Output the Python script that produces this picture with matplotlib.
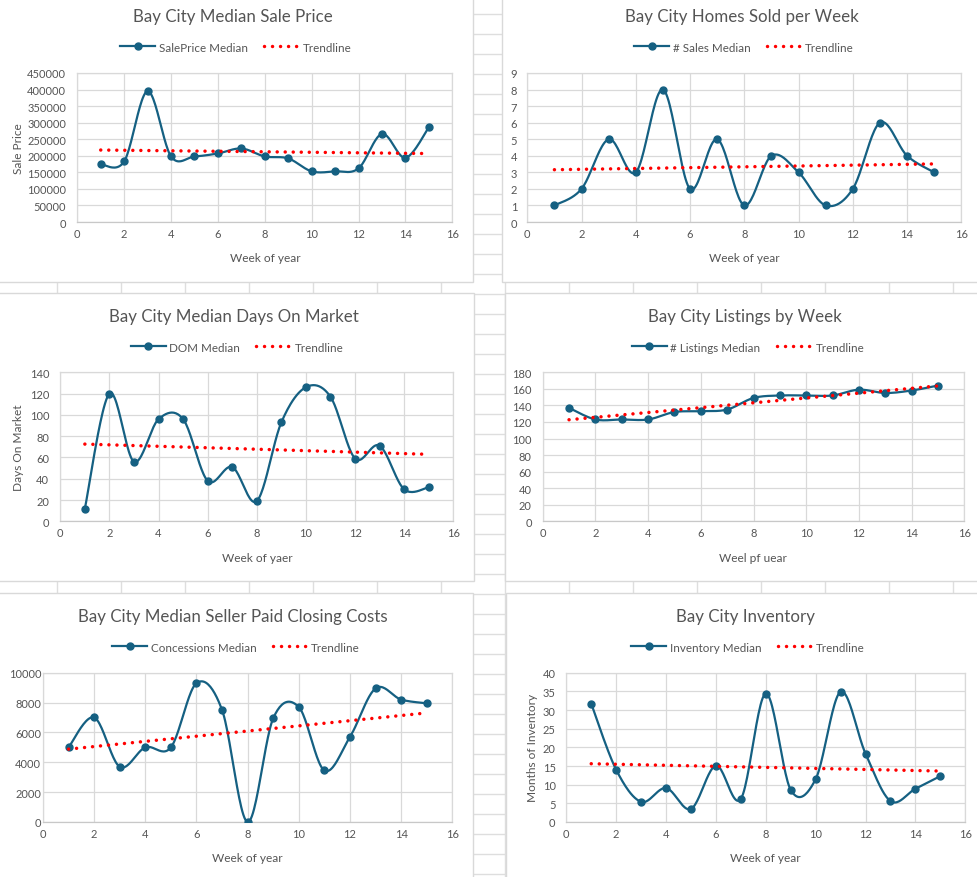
import numpy as np
import matplotlib.pyplot as plt
from matplotlib.lines import Line2D
from matplotlib.patches import Rectangle
from matplotlib.ticker import MultipleLocator, FuncFormatter

plt.rcParams['font.family'] = ['Lato', 'DejaVu Sans']

# data
weeks = list(range(1, 16))
sale_price = [174000, 183000, 395000, 198000, 198000, 207000, 222000, 198000,
              192000, 153000, 153000, 162000, 266000, 194000, 286000]
homes_sold = [1, 2, 5, 3, 8, 2, 5, 1, 4, 3, 1, 2, 6, 4, 3]
days_on_market = [12, 120, 56, 96, 96, 38, 51, 19, 93, 126, 117, 59, 71, 30, 32]
listings = [137, 123, 123, 123, 132, 133, 135, 149, 152, 152, 152, 159, 155, 158, 164]
concessions = [5000, 7000, 3700, 5000, 5000, 9300, 7500, 0, 6950, 7700, 3450,
               5700, 8950, 8200, 7950]
inventory = [31.7, 14.0, 5.4, 9.1, 3.5, 15.1, 6.2, 34.4, 8.6, 11.5, 34.9,
             18.3, 5.6, 8.9, 12.3]

titles = ['Bay City Median Sale Price', 'Bay City Homes Sold per Week',
          'Bay City Median Days On Market', 'Bay City Listings by Week',
          'Bay City Median Seller Paid Closing Costs', 'Bay City Inventory']
series_names = ['SalePrice Median', '# Sales Median', 'DOM Median',
                '# Listings Median', 'Concessions Median', 'Inventory Median']
x_labels = ['Week of year', 'Week of year', 'Week of yaer', 'Weel pf uear',
            'Week of year', 'Week of year']
y_labels = ['Sale Price', None, 'Days On Market', None, None, 'Months of Inventory']
y_max = [450000, 9, 140, 180, 10000, 40]
y_step = [50000, 1, 20, 20, 2000, 5]
all_values = [sale_price, homes_sold, days_on_market, listings, concessions, inventory]

# layout in screenshot pixels
W, H = 977, 878
boxes = [(-5, -5, 473, 283), (502, -5, 985, 283), (-5, 294, 474, 582),
         (505, 294, 985, 582), (-5, 594, 473, 885), (506, 594, 985, 885)]
plot_areas = [(77.3, 74, 452.3, 223), (527.3, 74, 961.3, 223),
              (60.3, 373.3, 453.3, 522.3), (542.7, 373.3, 964.3, 522.3),
              (43, 673.7, 452.3, 823), (566.3, 673.7, 965.3, 823)]
title_pos = [(233, 17), (742, 17), (234, 317), (745, 317), (233, 617), (746, 617)]
legend_pos = [(236, 48), (744, 48), (237, 348), (748, 348), (236, 648), (748, 648)]
xlabel_pos = [(265, 259), (744, 259), (257, 559), (753, 559), (247, 859), (765, 859)]
ylabel_x = [18, None, 19, None, None, 532]
ytick_pad = [8.0, 7.3, 8.0, 7.9, 1.3, 7.7]

BLUE = '#156082'
TEXT = '#555555'
GRID = '#d9d9d9'
SHEET = '#dedede'


def smooth(xs, ys, n=25):
    # Excel-like smoothed line (Catmull-Rom as cubic Bezier)
    p = np.column_stack([xs, ys]).astype(float)
    ext = np.vstack([p[0], p, p[-1]])
    t = np.linspace(0, 1, n)[:, None]
    out = []
    for i in range(len(p) - 1):
        p0, p1 = p[i], p[i + 1]
        c1 = p0 + (ext[i + 2] - ext[i]) / 6
        c2 = p1 - (ext[i + 3] - ext[i + 1]) / 6
        seg = (1 - t) ** 3 * p0 + 3 * (1 - t) ** 2 * t * c1 + 3 * (1 - t) * t ** 2 * c2 + t ** 3 * p1
        out.append(seg if i == 0 else seg[1:])
    return np.vstack(out)


fig = plt.figure(figsize=(W / 100, H / 100), dpi=100)
bg = fig.add_axes([0, 0, 1, 1])
bg.set_xlim(0, W)
bg.set_ylim(H, 0)
bg.axis('off')

# spreadsheet cells behind the charts
for x in range(57, W, 64):
    bg.plot([x, x], [0, H], color=SHEET, lw=1, zorder=0)
for y in range(15, H, 20):
    bg.plot([0, W], [y, y], color=SHEET, lw=1, zorder=0)

for (l, t, r, b) in boxes:
    bg.add_patch(Rectangle((l, t), r - l, b - t, facecolor='white',
                           edgecolor=GRID, lw=1, zorder=1))

trend_style = dict(color='red', lw=2.5, linestyle=(0, (0.01, 2.3)), dash_capstyle='round')

for i in range(6):
    vals = all_values[i]
    l, t, r, b = plot_areas[i]
    ax = fig.add_axes([l / W, 1 - b / H, (r - l) / W, (b - t) / H])

    curve = smooth(weeks, vals)
    ax.plot(curve[:, 0], curve[:, 1], color=BLUE, lw=1.6, zorder=3)
    ax.plot(weeks, vals, 'o', color=BLUE, ms=5, zorder=4)

    k, c = np.polyfit(weeks, vals, 1)
    tx = np.array([weeks[0], weeks[-1]])
    ax.plot(tx, k * tx + c, zorder=5, **trend_style)

    ax.set_xlim(0, 16)
    ax.set_ylim(0, y_max[i])
    ax.xaxis.set_major_locator(MultipleLocator(2))
    ax.yaxis.set_major_locator(MultipleLocator(y_step[i]))
    ax.yaxis.set_major_formatter(FuncFormatter(lambda v, p: '%d' % v))
    ax.grid(True, color=GRID, lw=0.9)
    ax.set_axisbelow(True)
    for s in ax.spines.values():
        s.set_color(GRID)
        s.set_linewidth(0.9)
    ax.spines['bottom'].set_color('#c8c8c8')
    ax.tick_params(length=0, labelsize=8, labelcolor=TEXT)
    ax.tick_params(axis='x', pad=4.3)
    ax.tick_params(axis='y', pad=ytick_pad[i])

    bg.text(title_pos[i][0], title_pos[i][1], titles[i], ha='center', va='center',
            fontsize=12.2, color=TEXT)
    bg.text(xlabel_pos[i][0], xlabel_pos[i][1], x_labels[i], ha='center', va='center',
            fontsize=8.6, color=TEXT)
    if y_labels[i]:
        bg.text(ylabel_x[i], (t + b) / 2, y_labels[i], ha='center', va='center',
                rotation=90, fontsize=8.6, color=TEXT)

    handles = [Line2D([], [], color=BLUE, lw=1.6, marker='o', ms=5),
               Line2D([], [], **trend_style)]
    fig.legend(handles, [series_names[i], 'Trendline'], loc='center',
               bbox_to_anchor=(legend_pos[i][0] / W, 1 - legend_pos[i][1] / H),
               ncol=2, frameon=False, fontsize=8.4, labelcolor=TEXT,
               handlelength=3.0, handletextpad=0.3, columnspacing=1.4)

fig.savefig('out.png', dpi=100)
